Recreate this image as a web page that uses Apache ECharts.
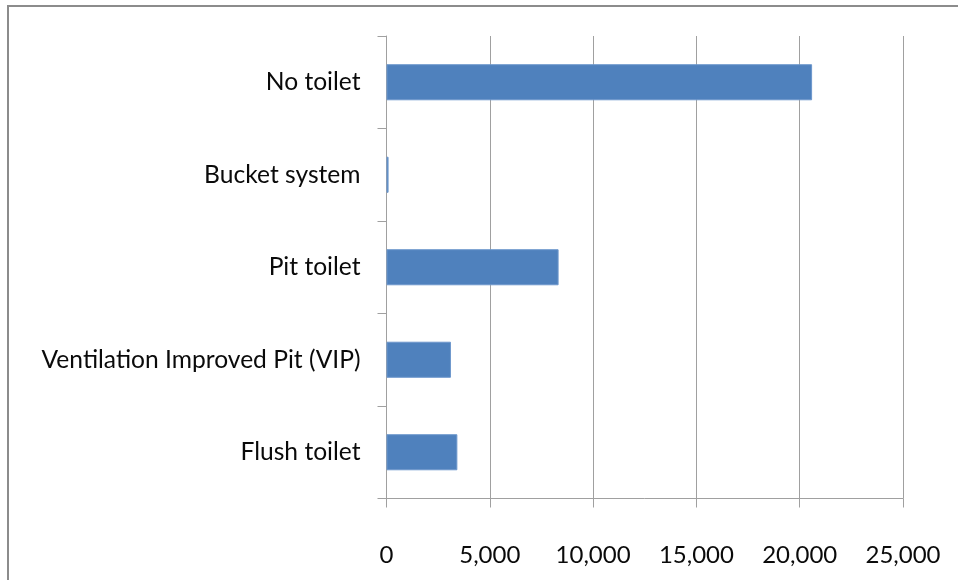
<!DOCTYPE html>
<html>
<head>
<meta charset="utf-8">
<script src="https://cdn.jsdelivr.net/npm/echarts@6/dist/echarts.min.js"></script>
<style>
  html, body { margin: 0; padding: 0; background: #ffffff; }
  #chart { width: 958px; height: 580px; }
</style>
</head>
<body>
<div id="chart"></div>
<script>
// Households by type of toilet facility
const categories = ['No toilet', 'Bucket system', 'Pit toilet', 'Ventilation Improved Pit (VIP)', 'Flush toilet'];
const households = [20600, 100, 8330, 3120, 3430];
const xTicks = { min: 0, max: 25000, interval: 5000 };

const FONT = 'Lato';
const gridColor = '#a0a0a0';

const chart = echarts.init(document.getElementById('chart'), null, { renderer: 'canvas' });

chart.setOption({
  animation: false,
  backgroundColor: '#ffffff',
  graphic: [{
    type: 'rect',
    shape: { x: 8, y: 6, width: 1000, height: 640 },
    style: { fill: 'none', stroke: '#8c8c8c', lineWidth: 2 },
    silent: true
  }],
  grid: { left: 386.5, right: 55, top: 36, bottom: 81.5, containLabel: false },
  xAxis: {
    type: 'value',
    min: xTicks.min,
    max: xTicks.max,
    interval: xTicks.interval,
    axisLine: { show: true, lineStyle: { color: gridColor, width: 1 } },
    axisTick: { show: true, inside: false, length: 9, lineStyle: { color: gridColor } },
    splitLine: { show: true, lineStyle: { color: gridColor, width: 1 } },
    axisLabel: {
      color: '#0a0a0a',
      fontFamily: FONT,
      fontSize: 24,
      margin: 45,
      formatter: v => v.toLocaleString('en-US')
    }
  },
  yAxis: {
    type: 'category',
    data: categories,
    inverse: true,
    axisLine: { show: true, lineStyle: { color: gridColor, width: 1 } },
    axisTick: { show: true, inside: false, length: 9, alignWithLabel: false, lineStyle: { color: gridColor } },
    splitLine: { show: false },
    axisLabel: {
      color: '#0a0a0a',
      fontFamily: FONT,
      fontSize: 24.6,
      margin: 26
    }
  },
  series: [{
    type: 'bar',
    data: households,
    barCategoryGap: '61%',
    itemStyle: { color: '#4f81bd', borderColor: '#6d97cc', borderWidth: 1 }
  }]
});
</script>
</body>
</html>
